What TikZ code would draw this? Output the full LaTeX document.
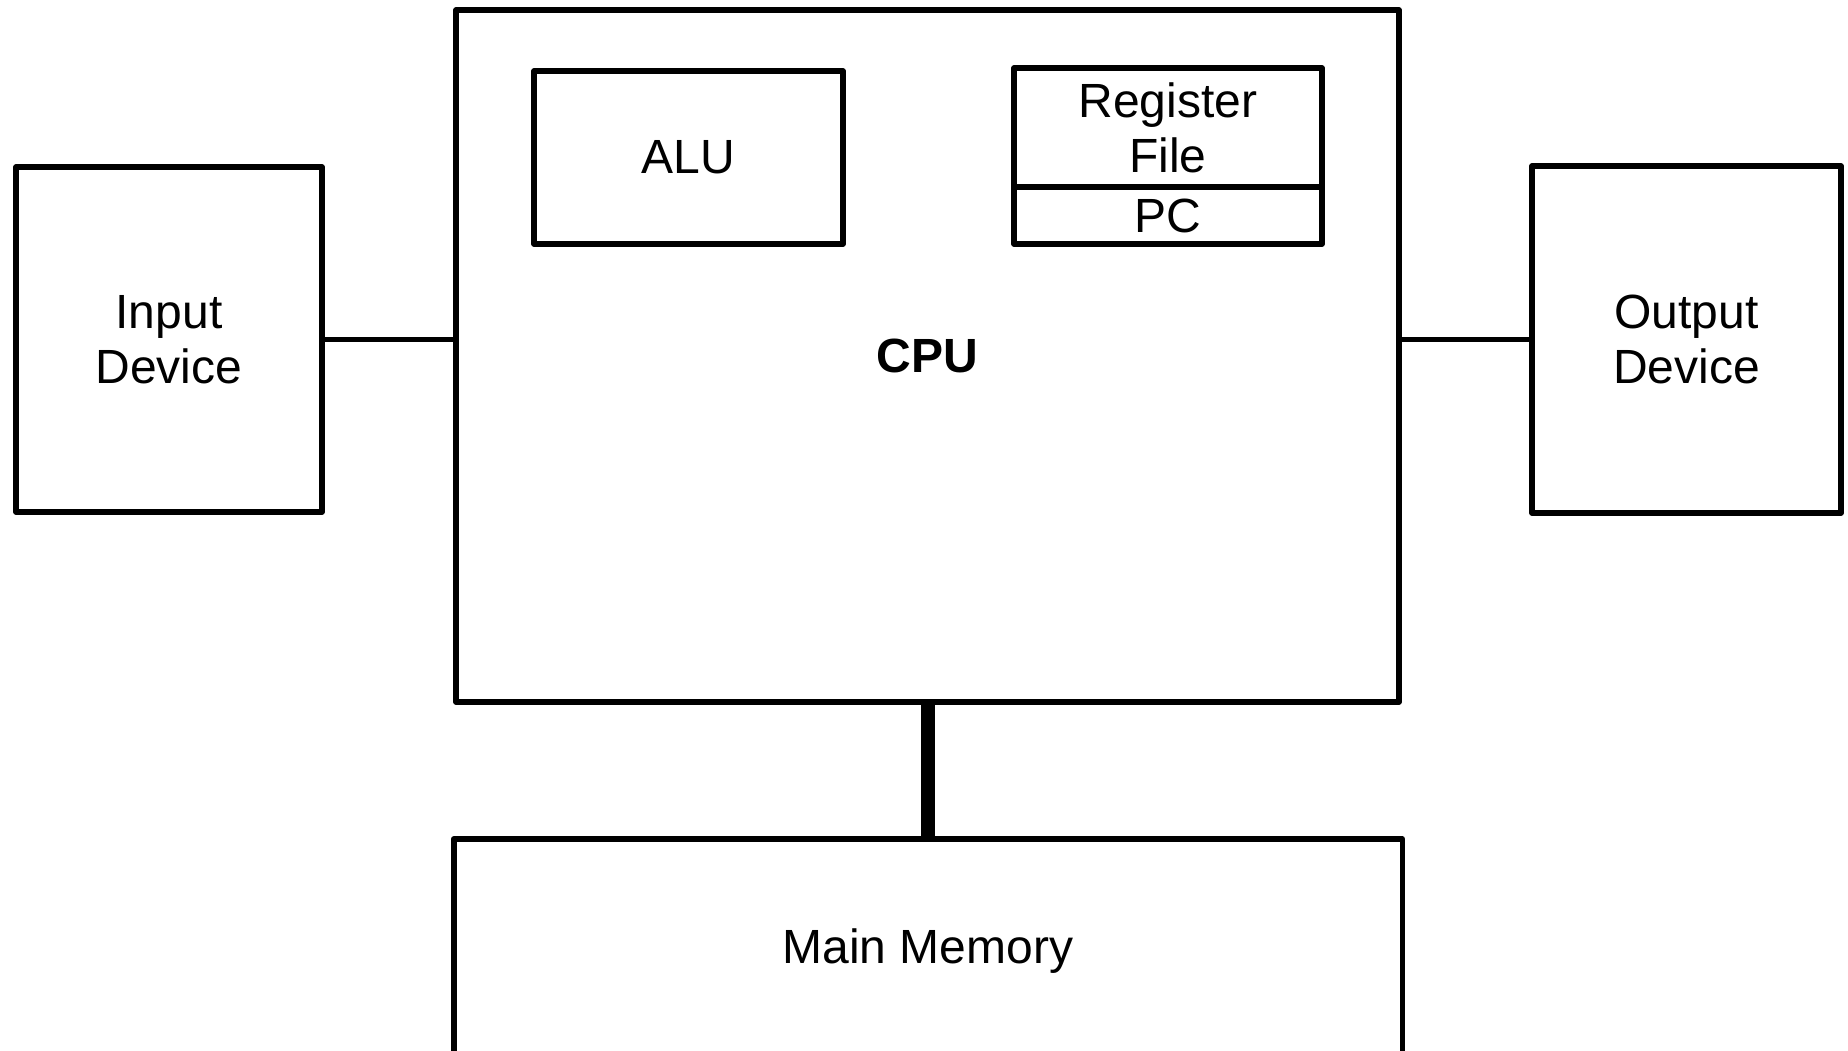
\documentclass[tikz,border=0pt]{standalone}
\usepackage{fontspec}
\setmainfont{Liberation Sans}
\usetikzlibrary{positioning,calc}

\begin{document}
\begin{tikzpicture}[
    x=1pt, y=1pt,
    unit/.style={draw, line width=2.8pt, line join=round, inner sep=0pt, outer sep=0pt,
                 align=center, font=\fontsize{24}{27.5}\selectfont},
    link/.style={line width=2.8pt},
    bus/.style={line width=7pt}
]
% Canvas
\useasboundingbox (0,0) rectangle (924,525);

% CPU with its inner parts
\node[unit, minimum width=471.5pt, minimum height=346pt] (CPU) at (463.75,347) {\bfseries CPU};
\node[unit, minimum width=154.5pt, minimum height=86.5pt] (ALU) at (344.25,446.25) {ALU};
\node[unit, minimum width=154pt, minimum height=59.5pt] (RF) at (584,461.25) {Register\\File};
\node[unit, minimum width=154pt, minimum height=28.5pt, anchor=north] (PC) at (RF.south) {PC};

% Devices on both sides
\node[unit, minimum width=153pt, minimum height=172.5pt] (In) at (84.5,355.25) {Input\\Device};
\node[unit, minimum width=154.5pt, minimum height=173.5pt] (Out) at (843.25,355.25) {Output\\Device};

% Memory below (runs off the bottom edge)
\node[unit, minimum width=474.3pt, minimum height=111.8pt] (Mem) at (464,49.6) {Main Memory};

% Connections
\draw[link] (In.east) -- (In.east -| CPU.west);
\draw[link] (Out.west) -- (Out.west -| CPU.east);
\draw[bus] (CPU.south) -- (CPU.south |- Mem.north);
\end{tikzpicture}
\end{document}
